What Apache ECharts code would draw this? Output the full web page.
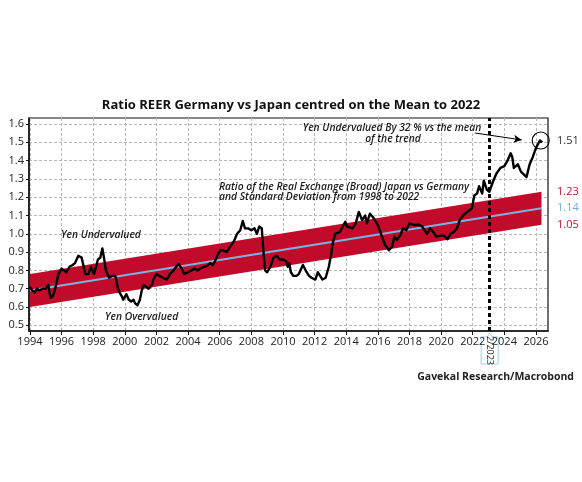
<!DOCTYPE html>
<html>
<head>
<meta charset="utf-8">
<title>Ratio REER Germany vs Japan</title>
<script src="https://cdn.jsdelivr.net/npm/echarts@6/dist/echarts.min.js"></script>
<style>
  html, body { margin: 0; padding: 0; background: #fff; }
  #chart { width: 582px; height: 482px; }
</style>
</head>
<body>
<div id="chart"></div>
<script>
// ratio REER, [year, value]
var ratio = [
  [1994.0,0.71],[1994.15,0.69],[1994.3,0.68],[1994.45,0.70],[1994.6,0.69],[1994.8,0.70],
  [1995.0,0.70],[1995.16,0.72],[1995.3,0.65],[1995.45,0.66],[1995.6,0.70],[1995.8,0.78],
  [1996.0,0.81],[1996.15,0.80],[1996.3,0.79],[1996.5,0.82],[1996.7,0.83],[1996.85,0.84],
  [1997.06,0.88],[1997.27,0.87],[1997.5,0.78],[1997.7,0.78],[1997.85,0.82],[1998.05,0.78],
  [1998.3,0.86],[1998.45,0.87],[1998.58,0.92],[1998.7,0.86],[1998.8,0.80],[1999.0,0.76],
  [1999.2,0.77],[1999.4,0.77],[1999.6,0.69],[1999.8,0.66],[1999.9,0.64],[2000.1,0.67],
  [2000.25,0.64],[2000.4,0.63],[2000.55,0.64],[2000.65,0.62],[2000.8,0.61],[2000.95,0.64],
  [2001.07,0.69],[2001.2,0.72],[2001.35,0.71],[2001.5,0.70],[2001.7,0.72],[2001.85,0.76],
  [2002.0,0.78],[2002.2,0.77],[2002.4,0.76],[2002.65,0.75],[2002.85,0.78],[2003.07,0.80],
  [2003.25,0.82],[2003.4,0.835],[2003.6,0.81],[2003.75,0.78],[2004.0,0.79],[2004.2,0.80],
  [2004.4,0.81],[2004.6,0.80],[2004.75,0.81],[2005.0,0.82],[2005.2,0.825],[2005.4,0.84],
  [2005.55,0.83],[2005.7,0.85],[2005.9,0.89],[2006.05,0.91],[2006.2,0.91],[2006.45,0.90],
  [2006.66,0.93],[2006.9,0.96],[2007.1,1.00],[2007.3,1.02],[2007.46,1.07],[2007.6,1.03],
  [2007.8,1.03],[2008.0,1.02],[2008.2,1.03],[2008.35,1.00],[2008.5,1.04],[2008.66,1.03],
  [2008.77,0.90],[2008.87,0.80],[2009.0,0.79],[2009.2,0.82],[2009.4,0.87],[2009.6,0.88],
  [2009.8,0.86],[2010.0,0.86],[2010.2,0.85],[2010.3,0.82],[2010.4,0.84],[2010.5,0.79],
  [2010.65,0.77],[2010.85,0.77],[2011.0,0.78],[2011.26,0.83],[2011.5,0.79],[2011.65,0.77],
  [2011.8,0.76],[2012.05,0.75],[2012.2,0.79],[2012.35,0.77],[2012.5,0.75],[2012.7,0.76],
  [2012.9,0.82],[2013.05,0.89],[2013.15,0.95],[2013.3,1.00],[2013.6,1.01],[2013.94,1.066],
  [2014.05,1.04],[2014.4,1.03],[2014.6,1.057],[2014.8,1.12],[2014.9,1.13],[2015.0,1.075],
  [2015.2,1.10],[2015.3,1.057],[2015.5,1.11],[2015.7,1.09],[2016.0,1.048],[2016.2,1.00],
  [2016.45,0.94],[2016.7,0.91],[2016.9,0.93],[2017.05,0.985],[2017.2,0.966],[2017.4,0.99],
  [2017.6,1.03],[2017.8,1.02],[2018.0,1.057],[2018.3,1.048],[2018.6,1.05],[2018.8,1.04],
  [2019.1,1.00],[2019.3,1.03],[2019.5,1.01],[2019.7,0.985],[2020.0,0.99],[2020.2,0.99],
  [2020.4,0.97],[2020.6,1.00],[2020.8,1.01],[2021.0,1.03],[2021.2,1.08],[2021.5,1.11],
  [2021.95,1.14],[2022.1,1.21],[2022.27,1.22],[2022.4,1.26],[2022.6,1.22],[2022.7,1.29],
  [2022.9,1.24],[2023.05,1.23],[2023.3,1.29],[2023.5,1.33],[2023.75,1.36],[2024.0,1.37],
  [2024.2,1.40],[2024.4,1.44],[2024.5,1.42],[2024.6,1.36],[2024.85,1.38],[2025.05,1.34],
  [2025.4,1.31],[2025.6,1.38],[2025.8,1.42],[2026.0,1.47],[2026.25,1.51],[2026.4,1.50]
];

// trend (mean) and +/- 1 std band, end points
var bandYears = [1994, 2026.35];
var trendMean = [0.69, 1.14];
var bandLower = [0.60, 1.05];
var bandUpper = [0.78, 1.23];

var xTicks = [1994,1996,1998,2000,2002,2004,2006,2008,2010,2012,2014,2016,2018,2020,2022,2024,2026];
var yTicks = [0.5,0.6,0.7,0.8,0.9,1.0,1.1,1.2,1.3,1.4,1.5,1.6];

var markerDate = 2023.07;   // 2/2023
var endLabels = [
  { v: 1.51, text: '1.51', color: '#333333' },
  { v: 1.23, text: '1.23', color: '#c8102e' },
  { v: 1.14, text: '1.14', color: '#6fa8dc' },
  { v: 1.05, text: '1.05', color: '#c8102e' }
];

var FONT = '"Open Sans", "Noto Sans", sans-serif';

var bandRows = bandYears.map(function (y, i) { return [y, bandLower[i], bandUpper[i]]; });
var trendRows = bandYears.map(function (y, i) { return [y, trendMean[i]]; });

var myChart = echarts.init(document.getElementById('chart'), null, { renderer: 'canvas' });

var option = {
  backgroundColor: '#ffffff',
  animation: false,
  title: {
    text: 'Ratio REER Germany vs Japan centred on the Mean to 2022',
    left: 'center',
    top: 94,
    textStyle: { fontFamily: FONT, fontSize: 13, fontWeight: 'bold', color: '#111' }
  },
  grid: {
    left: 29, right: 34, top: 118, bottom: 151,
    show: true, borderColor: '#111', borderWidth: 1.2, backgroundColor: '#fff'
  },
  xAxis: {
    type: 'value',
    min: 1993.94,
    max: 2026.76,
    axisLine: { show: true, onZero: false, lineStyle: { color: '#111', width: 1.5 } },
    axisTick: { show: true, length: 4, customValues: xTicks, lineStyle: { color: '#111' } },
    axisLabel: {
      customValues: xTicks, color: '#222', fontFamily: FONT, fontSize: 11, margin: 5,
      formatter: function (v) { return String(Math.round(v)); }
    },
    splitLine: { show: true, lineStyle: { color: '#b8b8b8', type: [3, 2], width: 1 } }
  },
  yAxis: {
    type: 'value',
    min: 0.469,
    max: 1.633,
    axisLine: { show: true, onZero: false, lineStyle: { color: '#111', width: 1.5 } },
    axisTick: { show: true, length: 3, customValues: yTicks, lineStyle: { color: '#111' } },
    axisLabel: {
      customValues: yTicks, color: '#222', fontFamily: FONT, fontSize: 11, margin: 5,
      formatter: function (v) { return v.toFixed(1); }
    },
    splitLine: { show: true, lineStyle: { color: '#b8b8b8', type: [3, 2], width: 1 } }
  },
  series: [
    {
      // std band drawn as one polygon through the axis scales
      type: 'custom', data: bandRows, silent: true, z: 1,
      encode: { x: 0, y: [1, 2] },
      renderItem: function (params, api) {
        if (params.dataIndex !== 0) return null;
        var top = [], bot = [];
        for (var i = 0; i < bandRows.length; i++) {
          top.push(api.coord([bandRows[i][0], bandRows[i][2]]));
          bot.unshift(api.coord([bandRows[i][0], bandRows[i][1]]));
        }
        return {
          type: 'polygon',
          shape: { points: top.concat(bot) },
          style: { fill: '#c20a2a' }
        };
      }
    },
    {
      type: 'line', data: trendRows, symbol: 'none', silent: true,
      lineStyle: { color: '#7ab3e3', width: 2 }, z: 2
    },
    {
      type: 'line', data: ratio, symbol: 'none',
      lineStyle: { color: '#000', width: 2.4, join: 'round' }, z: 4,
      markLine: {
        silent: true, symbol: ['none', 'none'], label: { show: false },
        lineStyle: { color: '#000', type: [4, 3], width: 3 },
        data: [{ xAxis: markerDate }]
      },
      markPoint: {
        silent: true,
        symbol: 'circle', symbolSize: 17,
        itemStyle: { color: 'rgba(0,0,0,0)', borderColor: '#000', borderWidth: 1.1 },
        label: { show: false },
        data: [{ coord: [2026.3, 1.51] }]
      }
    },
    {
      // arrow to the last point
      type: 'line', data: [], symbol: 'none', z: 5,
      markLine: {
        silent: true, symbol: ['none', 'arrow'], symbolSize: [6, 8], label: { show: false },
        lineStyle: { color: '#000', type: 'solid', width: 1 },
        data: [[{ coord: [2022.15, 1.551] }, { coord: [2025.1, 1.513] }]]
      }
    }
  ]
};

myChart.setOption(option);

// text notes and the date tag
function px(x, y) { return myChart.convertToPixel({ gridIndex: 0 }, [x, y]); }

var noteStyle = { fontFamily: FONT, fontSize: 10.3, fontStyle: 'italic', fontWeight: 600, fill: '#1a1a1a' };
function note(text, x, y, align) {
  return {
    type: 'text', x: x, y: y, z: 20,
    style: Object.assign({ text: text, align: align || 'left', verticalAlign: 'middle' }, noteStyle)
  };
}

var mk = px(markerDate, 0.469);
var rightEdge = px(2026.76, 1)[0];

var els = [
  note('Yen Undervalued By 32 % vs the mean', 392, 128, 'center'),
  note('of the trend', 393, 139, 'center'),
  note('Ratio of the Real Exchange (Broad) Japan vs Germany', 219, 187),
  note('and Standard Deviation from 1998 to 2022', 219, 197),
  note('Yen Undervalued', 61, 235),
  note('Yen Overvalued', 105, 317),
  {
    type: 'text', right: 8, top: 372, z: 20,
    style: { text: 'Gavekal Research/Macrobond', fontFamily: FONT, fontSize: 10.5, fontWeight: 'bold', fill: '#222' }
  },
  {
    type: 'group', x: mk[0], y: mk[1], z: 30,
    children: [
      { type: 'polygon', shape: { points: [[-8.5, 6], [-2.5, 6], [0, 2], [2.5, 6], [8.5, 6], [8.5, 33], [-8.5, 33]] },
        style: { fill: '#fff', stroke: '#9fd0ea', lineWidth: 1 } },
      { type: 'text', x: 0, y: 19.5, rotation: -Math.PI / 2,
        style: { text: '2/2023', fontFamily: FONT, fontSize: 9, fill: '#222', align: 'center', verticalAlign: 'middle' } }
    ]
  }
];

endLabels.forEach(function (l) {
  var p = px(2026.76, l.v);
  els.push({
    type: 'text', x: rightEdge + 9, y: p[1], z: 20,
    style: { text: l.text, fontFamily: FONT, fontSize: 11, fill: l.color, align: 'left', verticalAlign: 'middle' }
  });
});

myChart.setOption({ graphic: { elements: els } });
</script>
</body>
</html>
